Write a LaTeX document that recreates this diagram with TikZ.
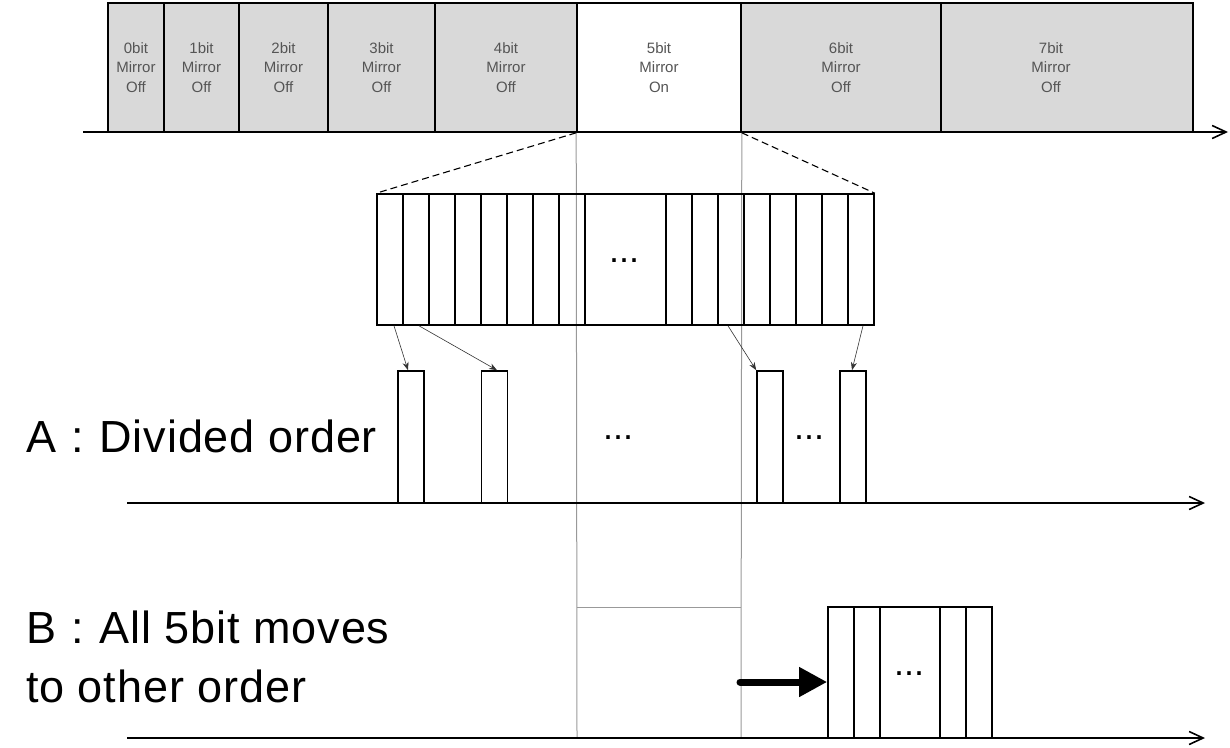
\documentclass[tikz,border=0pt]{standalone}
\usepackage{fontspec}
\setmainfont{Liberation Sans}
\newfontfamily\bigfont[LetterSpace=2.0]{Liberation Sans}
\usetikzlibrary{arrows.meta}
\definecolor{cellgray}{HTML}{D9D9D9}
\definecolor{celltext}{HTML}{555555}
\definecolor{guide}{HTML}{999999}
\newcommand{\colsep}{\ \hspace{2pt}:\hspace{2pt}\ }
\begin{document}
\begin{tikzpicture}[x=1pt,y=-1pt,
  topcell/.style={draw=black, line width=1.6pt, fill=cellgray, inner sep=0pt,
    minimum height=129pt, align=center, text=celltext,
    font=\fontsize{15}{19.5}\selectfont},
  celltxt/.style={inner sep=0pt, align=center, text=celltext,
    font=\fontsize{15}{19.5}\selectfont},
  slot/.style={draw=black, line width=1.6pt, inner sep=0pt, minimum width=26pt},
  dots/.style={inner sep=0pt, anchor=base, font=\fontsize{36}{38}\selectfont},
  axis/.style={draw=black, line width=1.6pt, -{Straight Barb[length=14pt,width=13pt]}},
  thinarrow/.style={draw=black!80, line width=0.6pt, -{Stealth[length=8pt,width=6pt]}},
  guideline/.style={draw=guide, line width=1pt},
  zoomline/.style={draw=black, line width=1.1pt, dash pattern=on 7pt off 4pt},
  bigtext/.style={inner sep=0pt, anchor=base west, font=\bigfont\fontsize{45}{59}\selectfont},
]
\useasboundingbox (0,0) rectangle (1230,747);

% guide lines of the 5bit slot
\coordinate (g1) at (577,738);
\coordinate (g2) at (741,738);
\coordinate (gt1) at (577,607);
\coordinate (gt2) at (741,607);

% top bar
\coordinate (ax0) at (83,132);
\coordinate (ax1) at (1228,132);
\node[topcell, minimum width=56pt]  (c0) at (136,67.5)   {0bit\\Mirror\\Off};
\node[topcell, minimum width=75pt]  (c1) at (201.5,67.5) {1bit\\Mirror\\Off};
\node[topcell, minimum width=89pt]  (c2) at (283.5,67.5) {2bit\\Mirror\\Off};
\node[topcell, minimum width=107pt] (c3) at (381.5,67.5) {3bit\\Mirror\\Off};
\node[topcell, minimum width=142pt] (c4) at (506,67.5)   {4bit\\Mirror\\Off};
\node[topcell, minimum width=164pt, fill=white] (c5) at (659,67.5) {5bit\\Mirror\\On};
\node[topcell, minimum width=200pt] (c6) at (841,67.5)   {6bit\\Mirror\\Off};
\node[topcell, minimum width=252pt] (c7) at (1067,67.5)  {};
\node[celltxt] (t7) at (1051,67.5) {7bit\\Mirror\\Off};
\draw[axis] (ax0) -- (ax1);

\draw[guideline] (c5.south west) -- (g1);
\draw[guideline] (c5.south east) -- (g2);
\draw[guideline] (gt1) -- (gt2);

% expanded 5bit block
\foreach \i in {0,...,7} {
  \node[slot, minimum height=131pt] (l\i) at ({390+26*\i},259.5) {};
  \node[slot, minimum height=131pt] (r\i) at ({679+26*\i},259.5) {};
}
\node[slot, minimum width=81pt, minimum height=131pt] (mid) at (625.5,259.5) {};
\node[dots] (middots) at (624,262) {...};
\draw[zoomline] (c5.south west) -- (l0.north west);
\draw[zoomline] (c5.south east) -- (r7.north east);

% A : divided order
\coordinate (axa0) at (127,503);
\coordinate (axa1) at (1205,503);
\node[slot, minimum height=132pt] (a1) at (411,437)   {};
\node[slot, minimum height=132pt] (a2) at (494.5,437) {};
\node[slot, minimum height=132pt] (a3) at (770,437)   {};
\node[slot, minimum height=132pt] (a4) at (853,437)   {};
\draw[axis] (axa0) -- (axa1);
\node[dots] (adots1) at (618,439) {...};
\node[dots] (adots2) at (809,439) {...};
\draw[thinarrow] ([xshift=4pt]l0.south) -- ([xshift=-3pt]a1.north);
\draw[thinarrow] ([xshift=3pt]l1.south) -- ([xshift=2.5pt]a2.north);
\draw[thinarrow] ([xshift=-3pt]r2.south) -- (a3.north west);
\draw[thinarrow] ([xshift=2pt]r7.south) -- ([xshift=-1pt]a4.north);
\node[bigtext] (labA) at (26,452) {A\colsep Divided order};

% B : all 5bit moves
\coordinate (axb0) at (127,738);
\coordinate (axb1) at (1205,738);
\node[slot, minimum height=131pt] (b0) at (841,672.5) {};
\node[slot, minimum height=131pt] (b1) at (867,672.5) {};
\node[slot, minimum width=60pt, minimum height=131pt] (bm) at (910,672.5) {};
\node[slot, minimum height=131pt] (b2) at (953,672.5) {};
\node[slot, minimum height=131pt] (b3) at (979,672.5) {};
\node[dots] (bdots) at (909,675) {...};
\draw[axis] (axb0) -- (axb1);
\coordinate (bstart) at (740,682);
\draw[line width=7pt, line cap=round, -{Triangle[length=28pt,width=28pt]}]
  (bstart) -- (b0.west |- bstart);
\node[bigtext] (labB1) at (26,643) {B\colsep All 5bit moves};
\node[bigtext] (labB2) at (26,702) {to other order};
\end{tikzpicture}
\end{document}
